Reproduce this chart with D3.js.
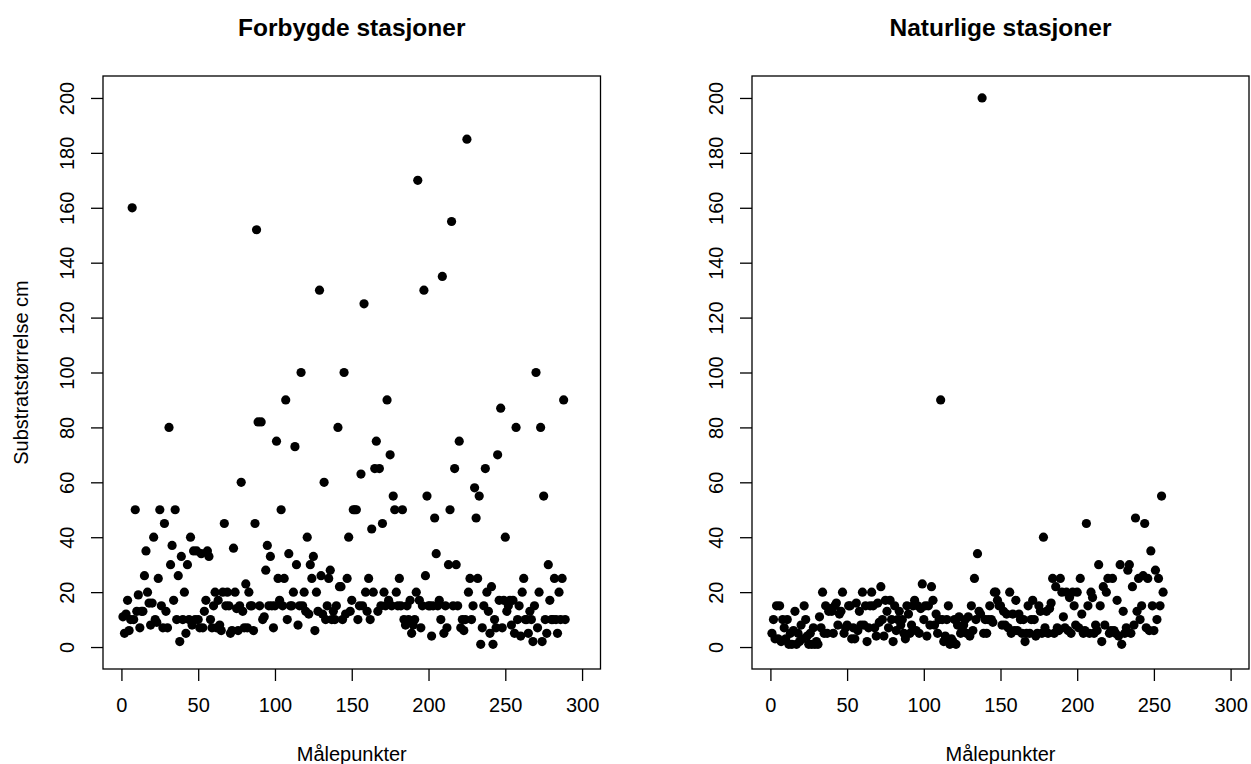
<!DOCTYPE html>
<html>
<head>
<meta charset="utf-8">
<script src="https://cdn.jsdelivr.net/npm/d3@7"></script>
<style>
  html, body { margin: 0; padding: 0; background: #fff; }
  svg { display: block; font-family: "Liberation Sans", Arial, sans-serif; }
</style>
</head>
<body>
<svg id="chart" width="1251" height="764"></svg>
<script>
// Substrate size per measuring point, regulated stations
const forbygdeValues = [
  11, 5, 12, 17, 6, 10, 160, 10, 50, 13,
  19, 7, 13, 13, 26, 35, 20, 16, 8, 16,
  40, 10, 9, 25, 50, 15, 7, 45, 13, 7,
  80, 30, 37, 17, 50, 10, 26, 2, 33, 10,
  20, 5, 30, 10, 40, 8, 35, 10, 35, 10,
  7, 34, 7, 13, 17, 35, 33, 10, 7, 15,
  20, 7, 17, 8, 6, 20, 45, 15, 20, 15,
  5, 6, 36, 20, 14, 6, 15, 60, 13, 7,
  23, 7, 20, 15, 15, 6, 45, 152, 82, 15,
  82, 10, 11, 28, 37, 15, 33, 15, 7, 15,
  75, 25, 17, 50, 15, 25, 90, 10, 34, 15,
  15, 20, 73, 30, 8, 15, 100, 15, 20, 13,
  40, 12, 30, 25, 33, 6, 20, 13, 130, 26,
  12, 60, 10, 15, 25, 28, 10, 13, 10, 15,
  80, 22, 22, 10, 100, 12, 25, 40, 13, 17,
  50, 50, 50, 10, 15, 63, 15, 125, 20, 13,
  25, 10, 43, 20, 65, 75, 13, 65, 15, 45,
  20, 15, 90, 17, 70, 15, 55, 50, 20, 15,
  25, 15, 50, 10, 8, 15, 10, 17, 5, 8,
  10, 20, 170, 17, 7, 15, 130, 26, 55, 15,
  15, 4, 15, 47, 34, 15, 17, 10, 135, 5,
  15, 7, 30, 50, 155, 15, 65, 30, 15, 75,
  7, 10, 6, 10, 185, 20, 25, 10, 15, 58,
  47, 25, 55, 1, 7, 15, 65, 20, 13, 5,
  22, 1, 10, 7, 70, 17, 87, 7, 17, 40,
  13, 15, 17, 8, 17, 5, 80, 10, 15, 4,
  20, 25, 10, 10, 5, 13, 10, 2, 15, 100,
  7, 20, 80, 2, 55, 10, 5, 30, 17, 10,
  10, 25, 10, 5, 20, 10, 25, 90, 10
];

// Substrate size per measuring point, natural stations
const naturligeValues = [
  5, 10, 3, 15, 3, 15, 2, 10, 7, 3,
  10, 1, 5, 1, 6, 13, 1, 5, 2, 8,
  3, 15, 10, 4, 1, 5, 1, 7, 1, 2,
  1, 11, 7, 20, 5, 15, 5, 13, 14, 13,
  5, 15, 16, 8, 12, 13, 20, 5, 7, 8,
  15, 15, 3, 7, 3, 16, 6, 13, 8, 20,
  8, 15, 2, 7, 15, 20, 15, 7, 4, 16,
  9, 22, 10, 4, 17, 13, 7, 17, 10, 2,
  15, 6, 10, 13, 8, 10, 5, 3, 15, 12,
  5, 8, 15, 17, 6, 15, 5, 14, 23, 10,
  15, 4, 15, 8, 22, 17, 8, 12, 5, 10,
  90, 10, 2, 4, 10, 15, 1, 3, 2, 10,
  1, 8, 11, 5, 7, 8, 10, 5, 11, 4,
  15, 6, 25, 10, 34, 13, 12, 200, 5, 10,
  5, 10, 15, 10, 9, 20, 20, 17, 15, 15,
  8, 13, 8, 12, 7, 20, 5, 12, 6, 17,
  6, 12, 10, 5, 10, 2, 5, 15, 5, 10,
  17, 10, 4, 5, 15, 13, 5, 40, 7, 13,
  5, 14, 16, 25, 5, 22, 7, 6, 25, 20,
  11, 7, 20, 6, 18, 5, 20, 15, 8, 20,
  7, 25, 12, 5, 6, 45, 15, 5, 20, 18,
  5, 8, 6, 30, 15, 2, 22, 8, 20, 25,
  5, 6, 25, 6, 5, 17, 4, 30, 1, 13,
  5, 7, 28, 30, 5, 22, 8, 47, 13, 25,
  10, 15, 26, 45, 7, 25, 6, 35, 15, 6,
  28, 10, 25, 15, 55, 20
];

const xTicks = [0, 50, 100, 150, 200, 250, 300];
const yTicks = [0, 20, 40, 60, 80, 100, 120, 140, 160, 180, 200];

const panelTitles = ["Forbygde stasjoner", "Naturlige stasjoner"];
const xLabel = "Målepunkter";
const yLabel = "Substratstørrelse cm";

const svg = d3.select("#chart");

const panels = [
  { title: panelTitles[0], values: forbygdeValues, left: 103, right: 600.5, showYLabel: true },
  { title: panelTitles[1], values: naturligeValues, left: 752, right: 1249, showYLabel: false }
];

const plotTop = 76, plotBottom = 669;

panels.forEach(p => {
  // R-style padded limits: xlim 0..300, ylim 0..200, each widened by 4 %
  const x = d3.scaleLinear().domain([-12, 312]).range([p.left, p.right]);
  const y = d3.scaleLinear().domain([-8, 208]).range([plotBottom, plotTop]);

  const g = svg.append("g");

  // points
  g.append("g")
    .selectAll("circle")
    .data(p.values)
    .join("circle")
    .attr("cx", (d, i) => x(i + 1))
    .attr("cy", d => y(d))
    .attr("r", 4.6)
    .attr("fill", "#000");

  // x axis
  const xAxis = g.append("g")
    .attr("transform", `translate(0,${plotBottom})`)
    .call(d3.axisBottom(x).tickValues(xTicks).tickSize(12).tickPadding(17).tickFormat(d3.format("d")));
  xAxis.select(".domain").remove();
  xAxis.selectAll("line").attr("stroke", "#000").attr("stroke-width", 1.3);
  xAxis.selectAll("text")
    .attr("fill", "#000")
    .style("font-size", "20px")
    .attr("dy", "0.71em");

  // y axis, labels parallel to the axis
  const yAxis = g.append("g")
    .attr("transform", `translate(${p.left},0)`)
    .call(d3.axisLeft(y).tickValues(yTicks).tickSize(12).tickFormat(d3.format("d")));
  yAxis.select(".domain").remove();
  yAxis.selectAll("line").attr("stroke", "#000").attr("stroke-width", 1.3);
  yAxis.selectAll("text")
    .attr("fill", "#000")
    .style("font-size", "20px")
    .attr("text-anchor", "middle")
    .attr("x", 0)
    .attr("y", -29)
    .attr("dy", 0)
    .attr("transform", "rotate(-90)");

  // frame
  g.append("rect")
    .attr("x", p.left)
    .attr("y", plotTop)
    .attr("width", p.right - p.left)
    .attr("height", plotBottom - plotTop)
    .attr("fill", "none")
    .attr("stroke", "#000")
    .attr("stroke-width", 1.3);

  // title
  g.append("text")
    .attr("x", (p.left + p.right) / 2)
    .attr("y", 36)
    .attr("text-anchor", "middle")
    .style("font-size", "24.5px")
    .style("font-weight", "bold")
    .attr("fill", "#000")
    .text(p.title);

  // x label
  g.append("text")
    .attr("x", (p.left + p.right) / 2)
    .attr("y", 761)
    .attr("text-anchor", "middle")
    .style("font-size", "20px")
    .attr("fill", "#000")
    .text(xLabel);

  if (p.showYLabel) {
    g.append("text")
      .attr("transform", `translate(28,${(plotTop + plotBottom) / 2}) rotate(-90)`)
      .attr("text-anchor", "middle")
      .style("font-size", "20px")
      .attr("fill", "#000")
      .text(yLabel);
  }
});
</script>
</body>
</html>
